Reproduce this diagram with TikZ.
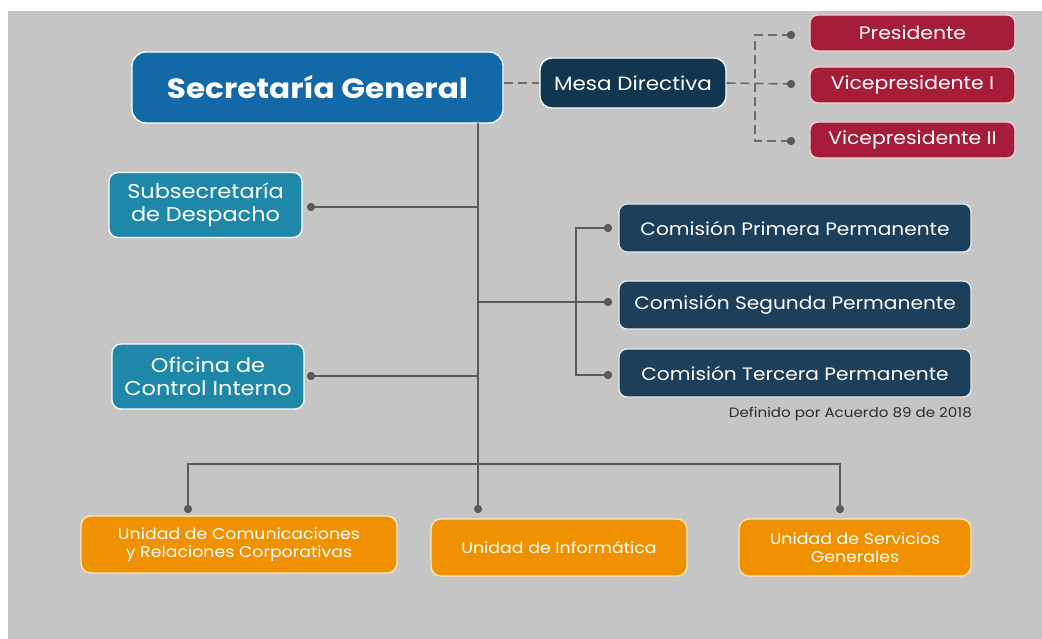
\documentclass[tikz,border=0pt]{standalone}
\usepackage{fontspec}
\setmainfont{Poppins}[FakeStretch=1.12]
\definecolor{bggrey}{HTML}{C6C5C6}
\definecolor{sgblue}{HTML}{1369A7}
\definecolor{navy}{HTML}{11364F}
\definecolor{comnavy}{HTML}{1C405B}
\definecolor{teal}{HTML}{1F88A9}
\definecolor{wine}{HTML}{A51D39}
\definecolor{orng}{HTML}{EF9100}
\definecolor{linegrey}{HTML}{5A5A5C}
\definecolor{cream}{HTML}{FBE6B8}
\definecolor{pinkish}{HTML}{F2D3D8}
\definecolor{txtdark}{HTML}{2E2E2E}
\begin{document}
\begin{tikzpicture}[x=1pt,y=-1pt,
  box/.style={rectangle, rounded corners=9pt, draw=white, line width=1.3pt, text=white, align=center, inner sep=0pt},
  sgbox/.style={box, fill=sgblue, rounded corners=14pt, minimum width=371pt, minimum height=71pt, font=\fontsize{27.8}{32}\selectfont\bfseries},
  mesabox/.style={box, fill=navy, rounded corners=12pt, minimum width=186pt, minimum height=50pt, font=\fontsize{19.2}{22}\selectfont},
  redbox/.style={box, draw=pinkish, fill=wine, rounded corners=8pt, minimum width=205pt, minimum height=36pt, font=\fontsize{18.2}{20}\selectfont},
  tealbox/.style={box, fill=teal, rounded corners=9pt, minimum width=193pt, minimum height=65pt, font=\fontsize{20}{23}\selectfont},
  combox/.style={box, draw=white!85!gray, fill=comnavy, rounded corners=8pt, minimum width=352pt, minimum height=48pt, font=\fontsize{18}{21}\selectfont},
  orgbox/.style={box, draw=cream, fill=orng, rounded corners=10pt, minimum height=57pt, font=\fontsize{15.5}{17.5}\selectfont},
  link/.style={draw=linegrey, line width=1.6pt},
  dlink/.style={draw=linegrey!90!white, line width=1.6pt, dash pattern=on 9pt off 5pt},
  dot/.style={circle, fill=linegrey, inner sep=0pt, minimum size=8pt}
]
% background
\fill[white] (0,0) rectangle (1042,639);
\fill[bggrey] (8,11) rectangle (1042,639);
\useasboundingbox (0,0) rectangle (1042,639);

% nodes
\node[sgbox] (sg) at (317.5,87.5) {Secretaría General};
\node[mesabox] (mesa) at (633,83) {Mesa Directiva};
\node[redbox] (pres) at (912.5,33) {Presidente};
\node[redbox] (vp1) at (912.5,85) {Vicepresidente I};
\node[redbox] (vp2) at (912.5,140) {Vicepresidente II};

\node[tealbox] (sub) at (205.5,205) {Subsecretaría\\de Despacho};
\node[tealbox, minimum width=192pt] (oci) at (208,376.5) {Oficina de\\Control Interno};

\node[combox] (c1) at (795,228) {Comisión Primera Permanente};
\node[combox] (c2) at (795,305) {Comisión Segunda Permanente};
\node[combox] (c3) at (795,373) {Comisión Tercera Permanente};
\node[anchor=east, text=txtdark, font=\fontsize{13.5}{15}\selectfont, inner sep=0pt] (note) at (972,414) {Definido por Acuerdo 89 de 2018};

\node[orgbox, minimum width=316pt] (ucom) at (239,544.5) {Unidad de Comunicaciones\\y Relaciones Corporativas};
\node[orgbox, minimum width=256pt] (uinf) at (559,547.5) {Unidad de Informática};
\node[orgbox, minimum width=232pt] (userv) at (855,547.5) {Unidad de Servicios\\Generales};

% dots
\node[dot] (dpres) at (791,35) {};
\node[dot] (dvp1) at (791,84) {};
\node[dot] (dvp2) at (791,141) {};
\node[dot] (dsub) at (311,207) {};
\node[dot] (doci) at (311,376) {};
\node[dot] (dc1) at (608,228) {};
\node[dot] (dc2) at (608,302) {};
\node[dot] (dc3) at (608,375) {};
\node[dot] (dcom) at (188,509) {};
\node[dot] (dinf) at (478,509) {};
\node[dot] (dserv) at (840,509) {};

% junction coordinates
\coordinate (trunktop) at (478,123);
\coordinate (jsub) at (478,207);
\coordinate (jcom) at (478,302);
\coordinate (joci) at (478,376);
\coordinate (jbot) at (478,464);
\coordinate (brk) at (576,302);
\coordinate (mj) at (755,84);

% dashed connectors
\draw[dlink] (sg.east |- mesa.west) -- (mesa.west);
\draw[dlink] (mesa.east) -- (dvp1.center);
\draw[dlink] (dpres.center) -| (mj) |- (dvp2.center);

% solid connectors
\draw[link] (trunktop) -- (dinf.center);
\draw[link] (dsub.center) -- (jsub);
\draw[link] (doci.center) -- (joci);
\draw[link] (jcom) -- (brk);
\draw[link] (dc1.center) -| (brk) |- (dc3.center);
\draw[link] (brk) -- (dc2.center);
\draw[link] (dcom.center) |- (jbot) -| (dserv.center);

% redraw dots on top
\foreach \d in {dpres,dvp1,dvp2,dsub,doci,dc1,dc2,dc3,dcom,dinf,dserv}
  \fill[linegrey] (\d) circle (4pt);
\end{tikzpicture}
\end{document}
